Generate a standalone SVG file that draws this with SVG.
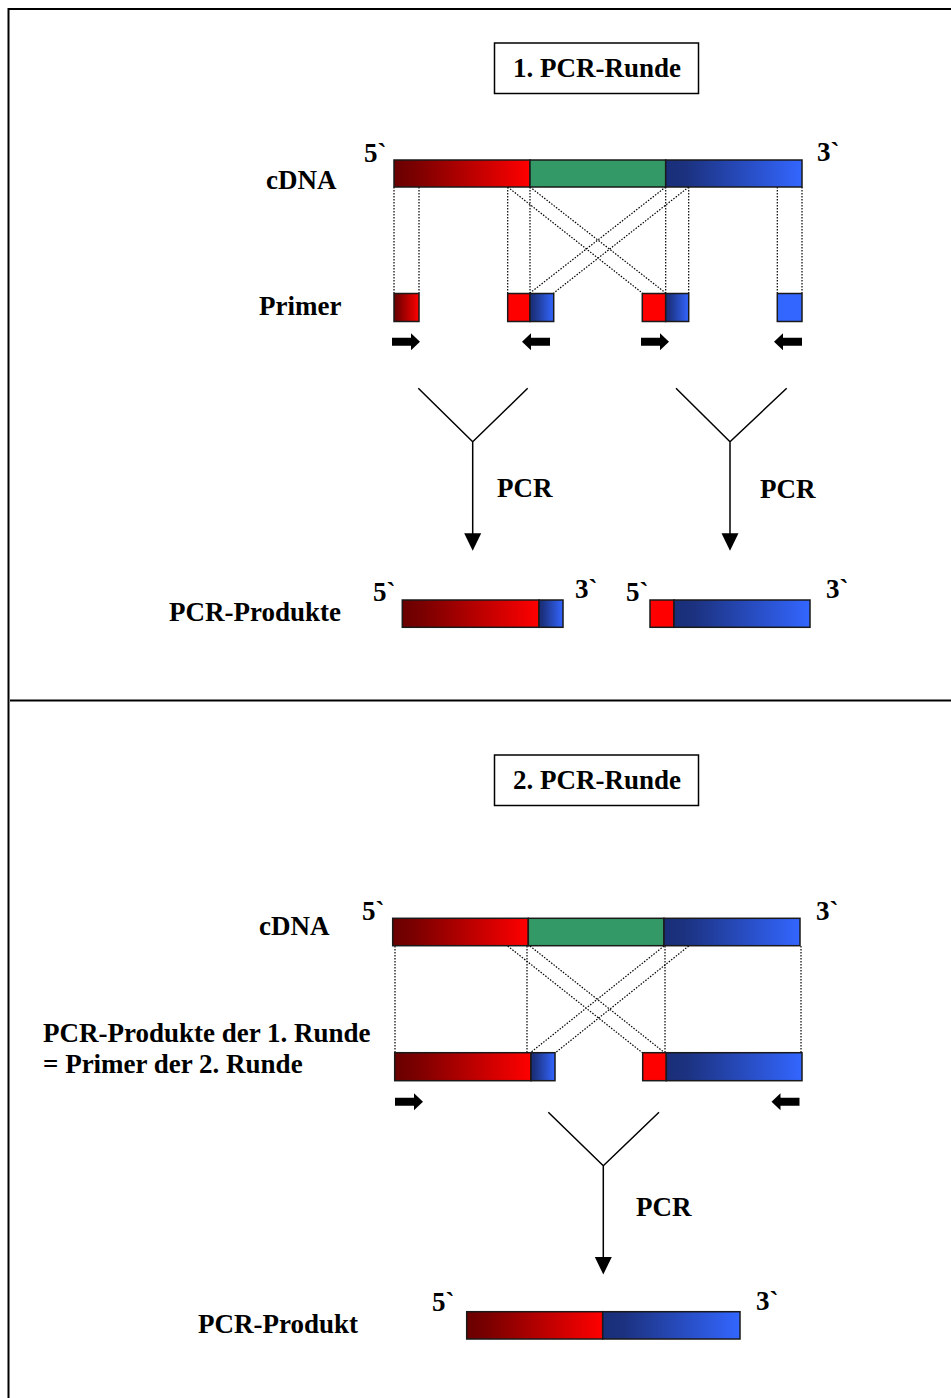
<svg xmlns="http://www.w3.org/2000/svg" xmlns:xlink="http://www.w3.org/1999/xlink" width="951" height="1398" viewBox="0 0 951 1398">
<style>
text{font-family:"Liberation Serif","Times New Roman",serif;font-weight:bold;font-size:27px;fill:#000}
.bar{stroke:#1a1a1a;stroke-width:1.5}
.dot{stroke:#000;stroke-width:1.2;stroke-dasharray:1.5 1.5;fill:none}
.ln{stroke:#000;stroke-width:1.5;fill:none}
.frame{stroke:#000;stroke-width:2;fill:none}
.box{fill:#fff;stroke:#000;stroke-width:1.5}
</style>
<defs>
<linearGradient id="gr"><stop offset="0" stop-color="#6a0000"/><stop offset="0.15" stop-color="#7a0000"/><stop offset="1" stop-color="#ff0000"/></linearGradient>
<linearGradient id="gb"><stop offset="0" stop-color="#1a2e78"/><stop offset="0.15" stop-color="#1c3280"/><stop offset="1" stop-color="#3366ff"/></linearGradient>
<path id="ar" d="M0,-4 H19 V-8.5 L28,0 L19,8.5 V4 H0 Z" fill="#000"/>
<path id="al" d="M28,-4 H9 V-8.5 L0,0 L9,8.5 V4 H28 Z" fill="#000"/>
<path id="ad" d="M-8.5,0 H8.5 L0,17.5 Z" fill="#000"/>
</defs>
<rect width="951" height="1398" fill="#fff"/>
<g id="frame">
<path class="frame" d="M951,9 H8.5 V1398"/>
<path class="frame" d="M10,700.5 H951"/>
</g>

<g id="title1"><rect class="box" x="494.5" y="43" width="204" height="50.5"/><text x="513" y="77">1. PCR-Runde</text></g>
<g id="title2"><rect class="box" x="494.5" y="755" width="204" height="50.5"/><text x="513" y="789">2. PCR-Runde</text></g>

<g id="connectors">
<path class="dot" d="M394,187 V293 M419,187 V293 M507.7,187 V293 M530,187 V293 M665.7,187 V293 M688.7,187 V293 M777.3,187 V293 M802,187 V293"/>
<path class="dot" d="M507.7,187 L642.3,293 M530,187 L665.7,293 M665.7,187 L530,293 M688.7,187 L553.7,293"/>
<path class="dot" d="M395,946 V1053 M527,946 V1053 M665,946 V1053 M801,946 V1053"/>
<path class="dot" d="M507.7,946 L642.7,1053 M530,946 L665,1053 M664,946 L530,1053 M688.7,946 L555,1053"/>
<path class="ln" d="M418.3,388.3 L472.7,441.7 L527.7,388.3 M472.7,441.7 V536"/>
<use xlink:href="#ad" x="472.7" y="533.3"/>
<path class="ln" d="M676,388.3 L730,441.7 L786.7,388.3 M730,441.7 V536"/>
<use xlink:href="#ad" x="730" y="533.3"/>
<path class="ln" d="M548.3,1112.3 L603.3,1165.7 L659,1112.3 M603.3,1165.7 V1259"/>
<use xlink:href="#ad" x="603.3" y="1257"/>
</g>

<g id="labels">
<text x="266" y="189">cDNA</text>
<text x="259" y="315">Primer</text>
<text x="169" y="621">PCR-Produkte</text>
<text x="259" y="935">cDNA</text>
<text x="43" y="1042">PCR-Produkte der 1. Runde</text>
<text x="43" y="1073">= Primer der 2. Runde</text>
<text x="198" y="1333">PCR-Produkt</text>
<text x="497" y="497">PCR</text>
<text x="760" y="498">PCR</text>
<text x="636" y="1216">PCR</text>
</g>

<g id="cdna1">
<rect class="bar" x="394" y="160" width="136" height="27" fill="url(#gr)"/>
<rect class="bar" x="530" y="160" width="135.7" height="27" fill="#339966"/>
<rect class="bar" x="665.7" y="160" width="136.3" height="27" fill="url(#gb)"/>
<text x="364" y="162">5`</text>
<text x="817" y="161">3`</text>
</g>

<g id="primer1"><rect class="bar" x="394" y="293.5" width="25" height="28" fill="url(#gr)"/><use xlink:href="#ar" x="392" y="341.7"/></g>
<g id="primer2"><rect class="bar" x="507.7" y="293.5" width="22.3" height="28" fill="#ff0000"/><rect class="bar" x="530" y="293.5" width="23.7" height="28" fill="url(#gb)"/><use xlink:href="#al" x="522" y="341.7"/></g>
<g id="primer3"><rect class="bar" x="642.3" y="293.5" width="23.4" height="28" fill="#ff0000"/><rect class="bar" x="665.7" y="293.5" width="23" height="28" fill="url(#gb)"/><use xlink:href="#ar" x="641" y="341.7"/></g>
<g id="primer4"><rect class="bar" x="777.3" y="293.5" width="24.7" height="28" fill="#3366ff"/><use xlink:href="#al" x="774" y="341.7"/></g>

<g id="product1a">
<rect class="bar" x="402.3" y="600" width="136.7" height="27.3" fill="url(#gr)"/>
<rect class="bar" x="539" y="600" width="24" height="27.3" fill="url(#gb)"/>
<text x="373" y="601">5`</text>
<text x="575" y="598">3`</text>
</g>
<g id="product1b">
<rect class="bar" x="650" y="600" width="24" height="27.3" fill="#ff0000"/>
<rect class="bar" x="674" y="600" width="136" height="27.3" fill="url(#gb)"/>
<text x="626" y="601">5`</text>
<text x="826" y="598">3`</text>
</g>

<g id="cdna2">
<rect class="bar" x="392.7" y="918.3" width="135.6" height="27.4" fill="url(#gr)"/>
<rect class="bar" x="528.3" y="918.3" width="135.7" height="27.4" fill="#339966"/>
<rect class="bar" x="664" y="918.3" width="136" height="27.4" fill="url(#gb)"/>
<text x="362" y="920">5`</text>
<text x="816" y="920">3`</text>
</g>

<g id="primer2a"><rect class="bar" x="394.7" y="1052.7" width="136.3" height="28" fill="url(#gr)"/><rect class="bar" x="531" y="1052.7" width="24" height="28" fill="url(#gb)"/><use xlink:href="#ar" x="395" y="1101.7"/></g>
<g id="primer2b"><rect class="bar" x="642.7" y="1052.7" width="23.6" height="28" fill="#ff0000"/><rect class="bar" x="666.3" y="1052.7" width="135.7" height="28" fill="url(#gb)"/><use xlink:href="#al" x="771.5" y="1101.7"/></g>

<g id="product2">
<rect class="bar" x="466.7" y="1311.7" width="136" height="27.3" fill="url(#gr)"/>
<rect class="bar" x="602.7" y="1311.7" width="137.3" height="27.3" fill="url(#gb)"/>
<text x="432" y="1311">5`</text>
<text x="756" y="1310">3`</text>
</g>
</svg>
